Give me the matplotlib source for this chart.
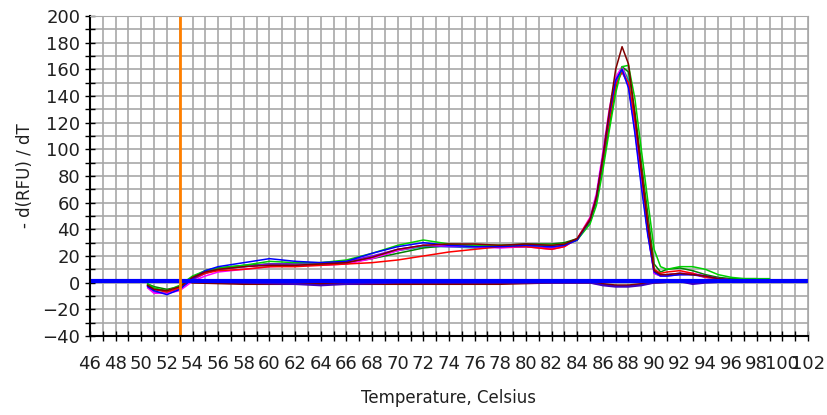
import numpy as np
import matplotlib
matplotlib.use("Agg")
import matplotlib.pyplot as plt
from matplotlib.ticker import MultipleLocator

# melt curve data
temps = [50.5, 51, 52, 53, 54, 55, 56, 58, 60, 62, 64, 66, 68, 70, 72, 74, 76, 78, 80, 82, 83, 84,
         85, 85.5, 86, 86.5, 87, 87.5, 88, 88.5, 89, 89.5, 90, 90.5, 91, 92, 93, 94, 95, 96, 97, 98, 99]

red = [-2, -5, -7, -4, 3, 7, 9, 10, 12, 12, 13, 14, 15, 17, 20, 23, 25, 27, 27, 25, 27, 33,
       48, 64, 92, 122, 148, 158, 150, 122, 85, 45, 10, 7, 8, 9, 7, 4, 3, 2, 2, 2, 2]
green = [-1, -4, -6, -2, 5, 9, 11, 13, 16, 15, 15, 17, 22, 28, 32, 29, 28, 28, 28, 28, 29, 32,
         44, 58, 84, 114, 142, 162, 163, 138, 100, 62, 25, 12, 10, 12, 12, 10, 6, 4, 3, 3, 3]
blue = [-3, -6, -9, -5, 3, 9, 12, 15, 18, 16, 15, 16, 22, 27, 30, 28, 27, 27, 28, 27, 28, 32,
        47, 64, 94, 126, 152, 160, 146, 112, 72, 36, 8, 5, 5, 6, 6, 5, 3, 2, 2, 2, 2]
magenta = [-4, -8, -8, -6, 1, 5, 8, 10, 12, 13, 13, 14, 18, 24, 28, 28, 27, 26, 27, 25, 27, 33,
           49, 67, 98, 130, 154, 162, 148, 114, 76, 38, 7, 5, 6, 7, 7, 5, 3, 2, 2, 2, 2]
darkred = [-2, -5, -6, -3, 4, 8, 10, 12, 13, 13, 14, 15, 19, 25, 28, 29, 29, 28, 29, 28, 29, 33,
           47, 64, 94, 128, 160, 177, 164, 126, 84, 44, 9, 6, 6, 7, 6, 5, 3, 2, 2, 2, 2]
darkgreen = [-1, -3, -5, -3, 4, 9, 11, 13, 14, 14, 14, 15, 18, 22, 26, 28, 28, 28, 29, 29, 30, 33,
             46, 61, 88, 118, 146, 162, 158, 128, 90, 52, 14, 8, 10, 11, 9, 6, 4, 3, 3, 3, 2]
purple = [-3, -7, -8, -4, 2, 7, 10, 12, 14, 14, 15, 16, 20, 25, 28, 27, 27, 27, 27, 26, 28, 32,
          47, 64, 94, 126, 150, 158, 148, 116, 76, 38, 7, 5, 5, 6, 6, 4, 3, 2, 2, 2, 2]
teal = [-2, -5, -7, -4, 3, 8, 10, 12, 14, 14, 14, 15, 19, 24, 27, 27, 26, 27, 27, 26, 28, 32,
        46, 62, 92, 124, 150, 162, 152, 120, 80, 40, 8, 6, 6, 7, 6, 5, 3, 2, 2, 2, 2]

# negative controls near zero
nc_temps = [54, 58, 62, 64, 66, 70, 74, 78, 82, 85, 86, 87, 88, 89, 90, 92, 93, 94, 96, 98]
nc_navy = [1, 0, -1, -2, -1, 0, 0, 0, 0, 0, -2, -3, -3, -2, 0, 1, -1, 0, 1, 1]
nc_darkred = [0, -1, -1, -1, -1, -1, -1, -1, 0, 0, -1, -2, -2, -1, 0, 1, 0, 1, 1, 1]

base_x = [46, 102]
base_y = [1.5, 1.5]
threshold_temp = 53

curves = [(teal, '#00A0A0'), (darkgreen, '#008000'), (purple, '#8000FF'), (magenta, '#FF00FF'),
          (red, '#FF0000'), (green, '#00D000'), (blue, '#0000FF'), (darkred, '#800000')]

fig = plt.figure(figsize=(8.27, 4.15), dpi=100)
ax = fig.add_axes([0.1088, 0.1904, 0.8682, 0.771])

for vals, c in curves:
    ax.plot(temps, vals, color=c, lw=1.1)
ax.plot(nc_temps, nc_darkred, color='#800000', lw=1.5)
ax.plot(nc_temps, nc_navy, color='#4000C0', lw=1.5)
ax.plot(base_x, base_y, color='#0000FF', lw=3)
ax.axvline(threshold_temp, color='#FF8000', lw=2)

ax.set_xlim(46, 102)
ax.set_ylim(-40, 200)
ax.xaxis.set_major_locator(MultipleLocator(2))
ax.xaxis.set_minor_locator(MultipleLocator(1))
ax.yaxis.set_major_locator(MultipleLocator(20))
ax.yaxis.set_minor_locator(MultipleLocator(10))
ax.grid(True, which='both', color='#A8A8A8', lw=1.2)
ax.set_axisbelow(True)
ax.tick_params(which='both', direction='inout', length=7, width=1, labelsize=13, labelcolor='#202020')
ax.tick_params(axis='x', pad=10)
for s in ['top', 'right']:
    ax.spines[s].set_color('#A8A8A8')
for s in ['left', 'bottom']:
    ax.spines[s].set_linewidth(1.5)

ax.set_xlabel('Temperature, Celsius', fontsize=12, color='#202020', labelpad=12)
ax.set_ylabel('- d(RFU) / dT', fontsize=12, color='#202020', labelpad=6)

fig.savefig('out.png', dpi=100)
